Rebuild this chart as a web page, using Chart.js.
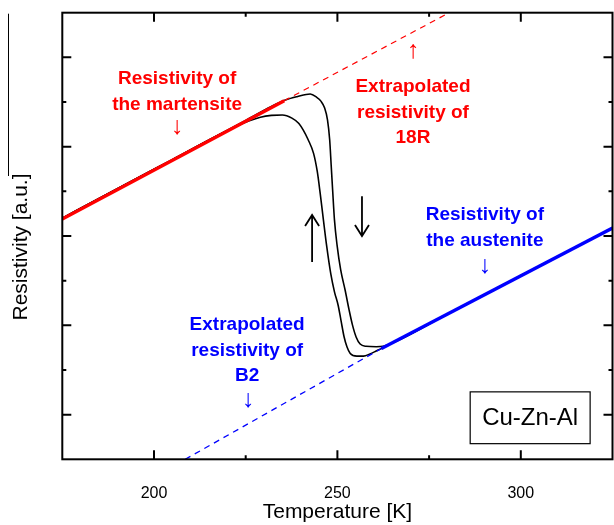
<!DOCTYPE html>
<html>
<head>
<meta charset="utf-8">
<script src="https://cdn.jsdelivr.net/npm/chart.js@4/dist/chart.umd.min.js"></script>
<style>
  html, body { margin: 0; padding: 0; background: #fff; }
  #wrap { width: 614px; height: 525px; }
</style>
</head>
<body>
<div id="wrap"><canvas id="rhoChart" width="614" height="525"></canvas></div>
<script>
// temperature axis (K) and resistivity axis (a.u.)
const xMin = 175, xMax = 325;
const yMin = 0, yMax = 10;
const xLabels = [200, 250, 300];

// linear fits: martensite (red) and austenite (blue)
const martT = [175, 235.5];
const martR = [5.38, 8.03];
const martExtT = [235.5, 280.5];
const martExtR = [8.03, 10.0];
const austT = [262, 325];
const austR = [2.48, 5.18];
const austExtT = [208.5, 262];
const austExtR = [0, 2.48];

// measured loop, heating branch (right, down arrow)
const heatT = [175, 185, 195, 205, 215, 225, 232, 236, 239, 242.6, 244.3, 245.5, 246.5, 247.3, 247.9,
  248.3, 248.7, 249.2, 249.9, 250.9, 252.1, 253.2, 254.1, 255.1, 256.2, 257.8, 260.6, 262.5, 264.4,
  280, 300, 325];
const heatR = [5.40, 5.84, 6.28, 6.71, 7.15, 7.59, 7.90, 8.05, 8.12, 8.18, 8.11, 8.02, 7.87, 7.60, 7.15,
  6.59, 6.03, 5.36, 4.80, 4.24, 3.79, 3.34, 3.01, 2.74, 2.58, 2.53, 2.52, 2.53, 2.58,
  3.25, 4.11, 5.18];

// measured loop, cooling branch (left, up arrow)
const coolT = [175, 185, 195, 205, 215, 222, 226, 229, 232, 235, 237.6, 239.5, 240.7, 242, 243.5, 244.5,
  245.3, 246.2, 247.1, 248.2, 249.2, 250.2, 251, 251.8, 252.6, 253.5, 255.3, 257.1, 258.9, 260.7, 262.5,
  280, 300, 325];
const coolR = [5.40, 5.84, 6.28, 6.71, 7.15, 7.44, 7.58, 7.66, 7.70, 7.71, 7.64, 7.52, 7.37, 7.16, 6.85, 6.45,
  5.96, 5.35, 4.76, 4.15, 3.75, 3.45, 3.10, 2.75, 2.52, 2.37, 2.31, 2.31, 2.36, 2.43, 2.50,
  3.25, 4.11, 5.18];

const pts = (xs, ys) => xs.map((x, i) => ({ x: x, y: ys[i] }));
const FONT = "'Liberation Sans', Arial, sans-serif";

// ticks, frame, labels and arrows drawn on top of the plot
const decorPlugin = {
  id: "decor",
  afterDraw(chart) {
    const ctx = chart.ctx;
    const xs = chart.scales.x, ys = chart.scales.y;
    const a = chart.chartArea;
    const px = v => xs.getPixelForValue(v);
    const py = v => ys.getPixelForValue(v);
    ctx.save();

    // inward ticks on all four sides
    ctx.strokeStyle = "#000";
    ctx.lineWidth = 2;
    ctx.beginPath();
    for (let t = 200; t <= 300; t += 25) {
      const len = t % 50 === 0 ? 9 : 4;
      const x = px(t);
      ctx.moveTo(x, a.bottom); ctx.lineTo(x, a.bottom - len);
      ctx.moveTo(x, a.top); ctx.lineTo(x, a.top + len);
    }
    for (let r = 1; r <= 9; r++) {
      const len = r % 2 === 1 ? 9 : 4;
      const y = py(r);
      ctx.moveTo(a.left, y); ctx.lineTo(a.left + len, y);
      ctx.moveTo(a.right, y); ctx.lineTo(a.right - len, y);
    }
    ctx.stroke();

    // frame
    ctx.lineWidth = 2;
    ctx.strokeRect(a.left, a.top, a.right - a.left, a.bottom - a.top);

    // thin stray line at far left (as in the scan)
    ctx.lineWidth = 1;
    ctx.beginPath();
    ctx.moveTo(8.5, a.top + 1); ctx.lineTo(8.5, 176);
    ctx.stroke();

    // y title
    ctx.save();
    ctx.translate(21, 247);
    ctx.rotate(-Math.PI / 2);
    ctx.fillStyle = "#000";
    ctx.font = "21px " + FONT;
    ctx.textAlign = "center";
    ctx.textBaseline = "middle";
    ctx.fillText("Resistivity [a.u.]", 0, 0);
    ctx.restore();

    // text blocks
    ctx.textAlign = "center";
    ctx.textBaseline = "middle";
    const block = (lines, t, r, color) => {
      ctx.fillStyle = color;
      ctx.font = "bold 19px " + FONT;
      lines.forEach((s, i) => ctx.fillText(s, px(t), py(r) + i * 25.5));
    };
    const arrowGlyph = (g, t, r, dy, color) => {
      ctx.fillStyle = color;
      ctx.font = "25px " + FONT;
      ctx.fillText(g, px(t), py(r) + dy);
    };
    block(["Resistivity of", "the martensite"], 206.3, 8.51, "#ff0000");
    arrowGlyph("\u2193", 206.3, 8.51, 48, "#ff0000");
    block(["Extrapolated", "resistivity of", "18R"], 270.6, 8.34, "#ff0000");
    arrowGlyph("\u2191", 270.6, 8.34, -36, "#ff0000");
    block(["Resistivity of", "the austenite"], 290.2, 5.47, "#0000ff");
    arrowGlyph("\u2193", 290.2, 5.47, 51, "#0000ff");
    block(["Extrapolated", "resistivity of", "B2"], 225.4, 3.01, "#0000ff");
    arrowGlyph("\u2193", 225.6, 3.01, 75, "#0000ff");

    // black direction arrows
    ctx.strokeStyle = "#000";
    ctx.lineWidth = 1.8;
    const upX = px(243.1), upTop = py(5.47), upBot = py(4.42);
    ctx.beginPath();
    ctx.moveTo(upX, upBot); ctx.lineTo(upX, upTop);
    ctx.moveTo(upX - 7, upTop + 11); ctx.lineTo(upX, upTop); ctx.lineTo(upX + 7, upTop + 11);
    ctx.stroke();
    const dnX = px(256.7), dnTop = py(5.89), dnBot = py(5.0);
    ctx.beginPath();
    ctx.moveTo(dnX, dnTop); ctx.lineTo(dnX, dnBot);
    ctx.moveTo(dnX - 7, dnBot - 11); ctx.lineTo(dnX, dnBot); ctx.lineTo(dnX + 7, dnBot - 11);
    ctx.stroke();

    // sample box
    const bx0 = px(286.2), bx1 = px(318.9), by0 = py(1.51), by1 = py(0.35);
    ctx.fillStyle = "#fff";
    ctx.fillRect(bx0, by0, bx1 - bx0, by1 - by0);
    ctx.lineWidth = 1.2;
    ctx.strokeRect(bx0, by0, bx1 - bx0, by1 - by0);
    ctx.fillStyle = "#000";
    ctx.font = "24px " + FONT;
    ctx.fillText("Cu-Zn-Al", (bx0 + bx1) / 2, (by0 + by1) / 2 + 1);

    ctx.restore();
  }
};

new Chart(document.getElementById("rhoChart"), {
  type: "line",
  data: {
    datasets: [
      { data: pts(martT, martR), borderColor: "#ff0000", borderWidth: 3.5, order: 0 },
      { data: pts(martExtT, martExtR), borderColor: "#ff0000", borderWidth: 1.2, borderDash: [6, 5], order: 0 },
      { data: pts(austT, austR), borderColor: "#0000ff", borderWidth: 3.5, order: 0 },
      { data: pts(austExtT, austExtR), borderColor: "#0000ff", borderWidth: 1.3, borderDash: [6, 5], order: 0 },
      { data: pts(heatT, heatR), borderColor: "#000", borderWidth: 1.6, cubicInterpolationMode: "monotone", order: 1 },
      { data: pts(coolT, coolR), borderColor: "#000", borderWidth: 1.6, cubicInterpolationMode: "monotone", order: 1 }
    ]
  },
  options: {
    responsive: false,
    animation: false,
    devicePixelRatio: 1,
    layout: { padding: { top: 12.7, right: 1.5, left: 0, bottom: 0 } },
    elements: { point: { radius: 0, hoverRadius: 0 }, line: { fill: false } },
    plugins: { legend: { display: false }, tooltip: { enabled: false } },
    scales: {
      x: {
        type: "linear",
        min: xMin,
        max: xMax,
        grid: { display: false, drawTicks: false },
        border: { display: false },
        afterFit: s => { s.height = 65.7; s.paddingLeft = 0; s.paddingRight = 0; },
        ticks: {
          stepSize: 25,
          autoSkip: false,
          maxRotation: 0,
          padding: 25,
          color: "#000",
          font: { size: 16, family: FONT },
          callback: v => xLabels.includes(v) ? String(v) : ""
        },
        title: {
          display: true,
          text: "Temperature [K]",
          color: "#000",
          font: { size: 21, family: FONT },
          padding: { top: 0, bottom: 0 }
        }
      },
      y: {
        type: "linear",
        min: yMin,
        max: yMax,
        grid: { display: false, drawTicks: false },
        border: { display: false },
        ticks: { display: false },
        afterFit: s => { s.width = 62.3; }
      }
    }
  },
  plugins: [decorPlugin]
});
</script>
</body>
</html>
